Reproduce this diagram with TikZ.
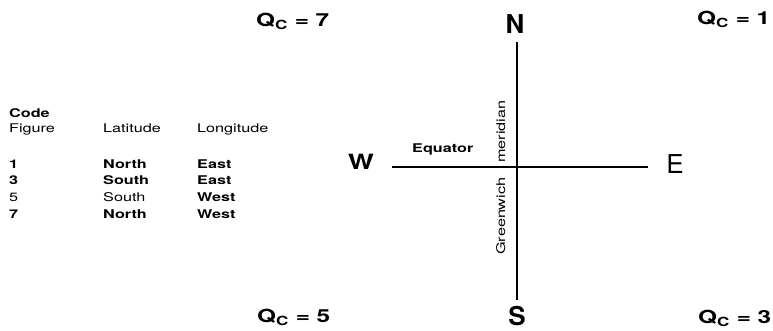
\documentclass[tikz,border=0pt]{standalone}
\usepackage{fontspec}
\setmainfont{TeX Gyre Heros}
\newcommand{\stretchtxt}[2][1.35]{\scalebox{#1}[1]{#2}}
\newcommand{\qlabel}[1]{\stretchtxt{\bfseries Q\textsubscript{C}\hspace{5pt}=\hspace{5pt}#1}}
\begin{document}
\begin{tikzpicture}[x=1pt,y=-1pt,
  txt/.style={inner sep=0pt, anchor=base west, font=\fontsize{12}{14}\selectfont},
  qtxt/.style={inner sep=0pt, anchor=base west, font=\fontsize{18}{20}\selectfont},
  axis/.style={line width=2.6pt},
  compass/.style={inner sep=0pt, anchor=base, font=\fontsize{26}{28}\selectfont\bfseries}]
\useasboundingbox (0,0) rectangle (773,330);
% table
\node[txt] (code) at (9,117) {\stretchtxt{\bfseries Code}};
\node[txt] (fig) at (9,132) {\stretchtxt{Figure}};
\node[txt] (lat) at (103,132) {\stretchtxt{Latitude}};
\node[txt] (lon) at (197,132) {\stretchtxt{Longitude}};
\node[txt] (c1) at (9,168) {\stretchtxt{\bfseries 1}};
\node[txt] (c3) at (9,184) {\stretchtxt{\bfseries 3}};
\node[txt] (c5) at (9,201) {\stretchtxt{5}};
\node[txt] (c7) at (9,218) {\stretchtxt{\bfseries 7}};
\node[txt] (la1) at (103,168) {\stretchtxt{\bfseries North}};
\node[txt] (la3) at (103,184) {\stretchtxt{\bfseries South}};
\node[txt] (la5) at (103,201) {\stretchtxt{South}};
\node[txt] (la7) at (103,218) {\stretchtxt{\bfseries North}};
\node[txt] (lo1) at (197,168) {\stretchtxt{\bfseries East}};
\node[txt] (lo3) at (197,184) {\stretchtxt{\bfseries East}};
\node[txt] (lo5) at (197,201) {\stretchtxt{\bfseries West}};
\node[txt] (lo7) at (197,218) {\stretchtxt{\bfseries West}};
% quadrant labels
\node[qtxt] (q7) at (256,26) {\qlabel{7}};
\node[qtxt] (q1) at (697,24) {\qlabel{1}};
\node[qtxt] (q5) at (257,322) {\qlabel{5}};
\node[qtxt] (q3) at (698,323) {\qlabel{3}};
% axes
\coordinate (wend) at (392,167);
\coordinate (eend) at (648,167);
\coordinate (nend) at (517,42);
\coordinate (send) at (517,300);
\draw[axis] (wend) -- (eend);
\draw[axis] (nend) -- (send);
% compass letters
\node[compass] (N) at (515,33) {N};
\node[compass] (S) at (517,325) {S};
\node[compass, font=\fontsize{21}{23}\selectfont\bfseries] (W) at (361,169) {\stretchtxt[1.3]{W}};
\node[compass, font=\fontsize{26}{28}\selectfont] (E) at (675,173) {E};
% line labels
\node[txt] (eq) at (412,152) {\stretchtxt{\bfseries Equator}};
\node[txt, rotate=90] (mer) at (505,163) {\stretchtxt{meridian}};
\node[txt, rotate=90] (gre) at (505,255) {\stretchtxt{Greenwich}};
\end{tikzpicture}
\end{document}
